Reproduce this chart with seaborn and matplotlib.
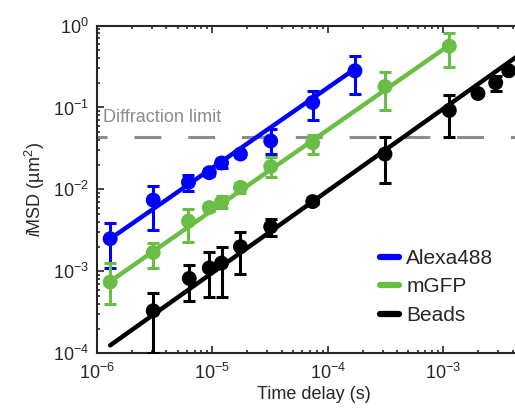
import numpy as np
import pandas as pd
import matplotlib
matplotlib.use("Agg")
import matplotlib.pyplot as plt
from matplotlib.lines import Line2D
import seaborn as sns

# ---------------- data ----------------
series_names = ["Alexa488", "mGFP", "Beads"]
series_colors = ["#0000FF", "#6BBE45", "#000000"]

t_alexa = [1.3e-6, 3.07e-6, 6.2e-6, 9.4e-6, 1.2e-5, 1.75e-5, 3.2e-5, 7.4e-5, 1.72e-4]
y_alexa = [2.5e-3, 7.4e-3, 1.22e-2, 1.6e-2, 2.1e-2, 2.7e-2, 3.9e-2, 0.115, 0.28]
lo_alexa = [1.1e-3, 3.2e-3, 9.5e-3, 1.45e-2, 1.85e-2, 2.5e-2, 2.7e-2, 0.071, 0.145]
hi_alexa = [3.9e-3, 1.1e-2, 1.5e-2, 1.75e-2, 2.4e-2, 2.9e-2, 5.5e-2, 0.157, 0.42]

t_gfp = [1.3e-6, 3.07e-6, 6.2e-6, 9.4e-6, 1.2e-5, 1.75e-5, 3.2e-5, 7.4e-5, 3.13e-4, 1.13e-3]
y_gfp = [7.4e-4, 1.7e-3, 4.1e-3, 6.0e-3, 7.0e-3, 1.06e-2, 1.9e-2, 3.7e-2, 0.18, 0.56]
lo_gfp = [4.0e-4, 1.1e-3, 2.3e-3, 5.5e-3, 6.0e-3, 9.0e-3, 1.4e-2, 2.7e-2, 0.092, 0.31]
hi_gfp = [1.25e-3, 2.2e-3, 5.7e-3, 6.5e-3, 8.3e-3, 1.2e-2, 2.5e-2, 4.6e-2, 0.27, 0.80]

t_beads = [3.07e-6, 6.3e-6, 9.4e-6, 1.2e-5, 1.75e-5, 3.2e-5, 7.4e-5, 3.13e-4, 1.13e-3, 2.0e-3, 2.85e-3, 3.7e-3]
y_beads = [3.3e-4, 8.2e-4, 1.1e-3, 1.26e-3, 2.0e-3, 3.5e-3, 7.1e-3, 2.7e-2, 9.2e-2, 0.148, 0.20, 0.28]
lo_beads = [1.0e-4, 4.3e-4, 4.8e-4, 4.8e-4, 9.2e-4, 2.7e-3, 6.6e-3, 1.2e-2, 0.043, 0.14, 0.157, 0.27]
hi_beads = [5.5e-4, 1.2e-3, 1.7e-3, 2.0e-3, 3.0e-3, 4.3e-3, 7.6e-3, 4.3e-2, 0.14, 0.155, 0.24, 0.29]

# fitted power laws: log10(iMSD) = slope * log10(t) + intercept
fit_slope = [0.978, 0.981, 1.000]
fit_intercept = [3.153, 2.651, 1.983]
# time span covered by each fitted line
fit_span_alexa = [1.3e-6, 1.72e-4]
fit_span_gfp = [1.3e-6, 1.13e-3]
fit_span_beads = [1.3e-6, 8e-3]

diffraction_limit = 0.043
diffraction_label = "Diffraction limit"

x_label = "Time delay (s)"
y_label = r"$\mathit{i}$MSD (µm$^{2}$)"

# ---------------- style ----------------
sns.set_theme(style="ticks")
plt.rcParams['font.family'] = ['Liberation Sans', 'DejaVu Sans']
plt.rcParams['mathtext.fontset'] = 'custom'
plt.rcParams['mathtext.rm'] = 'Liberation Sans'
plt.rcParams['mathtext.it'] = 'Liberation Sans:italic'
plt.rcParams['mathtext.bf'] = 'Liberation Sans:bold'
plt.rcParams['axes.linewidth'] = 1.5

W, H = 515, 416
fig = plt.figure(figsize=(W / 100, H / 100), dpi=100)
ax_left, ax_right, ax_top, ax_bottom = 97, 530, 25.5, 353.3
ax = fig.add_axes([ax_left / W, (H - ax_bottom) / H,
                   (ax_right - ax_left) / W, (ax_bottom - ax_top) / H])
ax.set_xscale('log')
ax.set_yscale('log')
xmax = 10 ** (-6 + (ax_right - ax_left) / 115.4)

# diffraction limit
ax.axhline(diffraction_limit, color="#8c8c8c", lw=2.2, ls=(5.5, (8.8, 8.8)), zorder=1)
ax.text(1.13e-6, 0.0745, diffraction_label, color="#8c8c8c", fontsize=13,
        va='center', ha='left')

datasets = [
    (t_alexa, y_alexa, lo_alexa, hi_alexa, fit_span_alexa),
    (t_gfp, y_gfp, lo_gfp, hi_gfp, fit_span_gfp),
    (t_beads, y_beads, lo_beads, hi_beads, fit_span_beads),
]

handles = []
for i, (name, color, (t, y, lo, hi, span)) in enumerate(zip(series_names, series_colors, datasets)):
    t = np.asarray(t); y = np.asarray(y); lo = np.asarray(lo); hi = np.asarray(hi)
    df = pd.DataFrame({"t": t, "y": y})
    ax.errorbar(t, y, yerr=[y - lo, hi - y], fmt='none', ecolor=color,
                elinewidth=2.2, capsize=4.5, capthick=2.2, zorder=3)
    sns.scatterplot(data=df, x="t", y="y", color=color, s=115, edgecolor='none',
                    ax=ax, zorder=4, legend=False)
    tt = np.logspace(np.log10(span[0]), np.log10(span[1]), 60)
    fit_df = pd.DataFrame({"t": tt,
                           "y": 10 ** (fit_slope[i] * np.log10(tt) + fit_intercept[i])})
    sns.lineplot(data=fit_df, x="t", y="y", color=color, lw=3.2, ax=ax,
                 zorder=5, legend=False)
    handles.append(Line2D([0], [0], color=color, lw=4.5, label=name))

ax.set_xlim(1e-6, xmax)
ax.set_ylim(1e-4, 1e0)

ax.set_xlabel(x_label, fontsize=13, labelpad=2)
ax.set_ylabel(y_label, fontsize=13, labelpad=4)

ax.tick_params(which='both', direction='in', top=True, right=False,
               labelsize=13, width=1.2)
ax.tick_params(axis='x', which='both', pad=7)
ax.tick_params(axis='y', which='both', pad=6)
ax.tick_params(which='major', length=5)
ax.tick_params(which='minor', length=2.5)
ax.xaxis.set_major_locator(matplotlib.ticker.LogLocator(base=10, numticks=10))
ax.yaxis.set_major_locator(matplotlib.ticker.LogLocator(base=10, numticks=10))
ax.xaxis.set_minor_locator(matplotlib.ticker.LogLocator(base=10, subs=np.arange(2, 10), numticks=20))
ax.yaxis.set_minor_locator(matplotlib.ticker.LogLocator(base=10, subs=np.arange(2, 10), numticks=20))
ax.yaxis.set_minor_formatter(matplotlib.ticker.NullFormatter())
ax.xaxis.set_minor_formatter(matplotlib.ticker.NullFormatter())
ax.spines['right'].set_visible(False)

ax.legend(handles=handles, loc='upper left', bbox_to_anchor=(0.654, 0.318),
          frameon=False, fontsize=15, handlelength=0.9, handletextpad=0.35,
          labelspacing=0.45, borderpad=0, borderaxespad=0)

fig.savefig("out.png", dpi=100)
